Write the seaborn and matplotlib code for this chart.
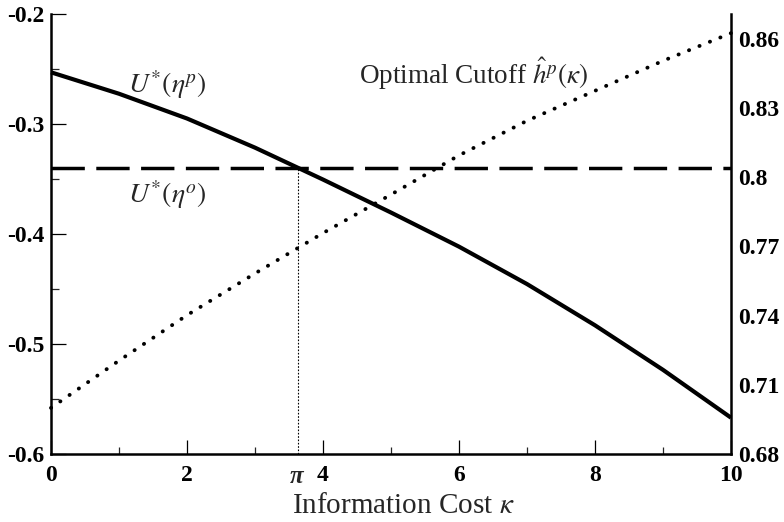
import numpy as np
import matplotlib
matplotlib.use("Agg")
import matplotlib.pyplot as plt
from matplotlib.ticker import FixedLocator
import seaborn as sns

# ---- data ----
kappa_u = [0, 1, 2, 3, 4, 5, 6, 7, 8, 9, 10]
u_p = [-0.253, -0.2725, -0.295, -0.3215, -0.3505, -0.3805, -0.4115,
       -0.4455, -0.483, -0.5235, -0.567]
kappa_o = [0, 10]
u_o = [-0.34, -0.34]
kappa_h = [0, 1, 2, 3, 4, 5, 6, 7, 8, 9, 10]
h_p = [0.700, 0.7205, 0.7402, 0.7583, 0.7758, 0.7925, 0.8095, 0.8245, 0.8375, 0.8505, 0.8625]

x_ticks = [0, 2, 4, 6, 8, 10]
x_labels = ["0", "2", "4", "6", "8", "10"]
x_minor = [1, 3, 5, 7, 9]
left_ticks = [-0.6, -0.5, -0.4, -0.3, -0.2]
left_labels = ["-0.6", "-0.5", "-0.4", "-0.3", "-0.2"]
left_minor = [-0.55, -0.45, -0.35, -0.25]
right_ticks = [0.68, 0.71, 0.74, 0.77, 0.80, 0.83, 0.86]
right_labels = ["0.68", "0.71", "0.74", "0.77", "0.8", "0.83", "0.86"]

sns.set_style("white")
plt.rcParams["font.family"] = ["Liberation Serif", "DejaVu Serif"]
plt.rcParams["mathtext.fontset"] = "stix"

W, H = 784, 522
fig = plt.figure(figsize=(W / 100, H / 100), dpi=100)
ax = fig.add_axes([51 / W, 68 / H, 680 / W, 440 / H])

sns.lineplot(x=kappa_u, y=u_p, ax=ax, color="black", lw=3.0, legend=False,
             solid_capstyle="butt", solid_joinstyle="round", clip_on=False)
sns.lineplot(x=kappa_o, y=u_o, ax=ax, color="black", lw=2.5, legend=False,
             linestyle=(0, (9.6, 3.3)), clip_on=False)

# crossing point (pi)
up = np.array(u_p)
ku = np.array(kappa_u)
x_cross = float(np.interp(-u_o[0], -up, ku))
ax.vlines(x_cross, -0.6, u_o[0], colors="black", lw=0.8, linestyles=(0, (1.5, 1.5)))

ax.set_xlim(0, 10)
ax.set_ylim(-0.6, -0.2)

ax2 = ax.twinx()
sns.lineplot(x=kappa_h, y=h_p, ax=ax2, color="black", lw=2.8, legend=False,
             linestyle=(0, (0.05, 2.85)), dash_capstyle="round", clip_on=False)
ax2.set_ylim(0.68, 0.8708)
ax2.set_xlim(0, 10)

# spines
for s in ["top", "right"]:
    ax.spines[s].set_visible(False)
for s in ["top", "left", "bottom"]:
    ax2.spines[s].set_visible(False)
for s in ["left", "bottom"]:
    ax.spines[s].set_linewidth(1.8)
    ax.spines[s].set_color("black")
ax2.spines["right"].set_linewidth(1.8)
ax2.spines["right"].set_color("black")

# ticks
ax.set_xticks(x_ticks, x_labels, fontsize=17, fontweight="bold")
ax.xaxis.set_minor_locator(FixedLocator(x_minor))
ax.set_yticks(left_ticks, left_labels, fontsize=17, fontweight="bold")
ax.yaxis.set_minor_locator(FixedLocator(left_minor))
ax.tick_params(axis="x", which="major", direction="in", length=10, width=0.9,
               pad=8, colors="black", bottom=True)
ax.tick_params(axis="x", which="minor", direction="in", length=5, width=0.9, bottom=True)
ax.tick_params(axis="y", which="major", direction="in", length=11, width=0.9,
               pad=5, colors="black", left=True)
ax.tick_params(axis="y", which="minor", direction="in", length=6, width=0.9, left=True)

ax2.set_yticks(right_ticks, right_labels, fontsize=17, fontweight="bold")
ax2.tick_params(axis="y", length=0, pad=5, colors="black", right=True)

ax.set_xlabel("")
ax.set_ylabel("")
ax2.set_ylabel("")

# pi label on the x axis
ax.annotate("π", xy=(x_cross, 0), xycoords=("data", "axes fraction"),
            xytext=(-1, -8), textcoords="offset points", ha="center", va="top",
            fontsize=18, fontweight="bold", fontstyle="italic",
            family=["Liberation Serif", "DejaVu Serif"])

# annotations
ax.text(1.13, -0.2718, r"$U^{*}(\eta^{p})$", fontsize=20, ha="left", va="baseline")
ax.text(1.13, -0.3718, r"$U^{*}(\eta^{o})$", fontsize=20, ha="left", va="baseline")
ax.text(4.53, -0.2636, r"Optimal Cutoff $\hat{h}^{p}(\kappa)$", fontsize=19.5,
        ha="left", va="baseline")

fig.text(403.5 / W, 9 / H, r"Information Cost $\kappa$", fontsize=21,
         ha="center", va="baseline")

fig.savefig("out.png", dpi=100)
